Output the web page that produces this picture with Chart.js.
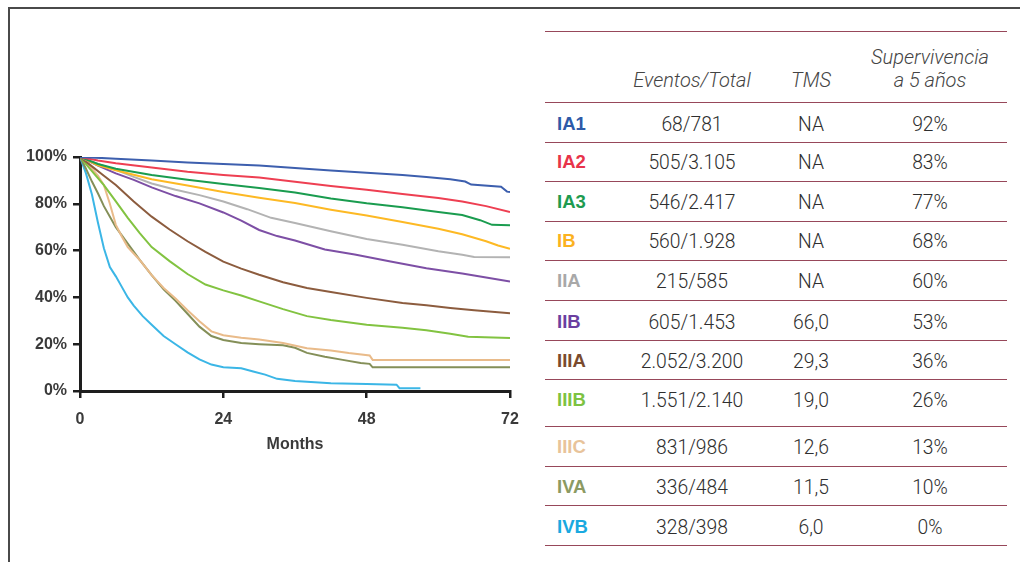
<!DOCTYPE html>
<html>
<head>
<meta charset="utf-8">
<script src="https://cdn.jsdelivr.net/npm/chart.js@4.4.1/dist/chart.umd.min.js"></script>
<style>
  html, body { margin: 0; padding: 0; background: #fff; }
  body { width: 1020px; height: 562px; position: relative; overflow: hidden; font-family: "Liberation Sans", Arial, sans-serif; }
  #frameTop { position: absolute; left: 8px; top: 7px; width: 1012px; height: 0; border-top: 2px solid #4a4a4a; }
  #frameLeft { position: absolute; left: 8px; top: 7px; width: 0; height: 555px; border-left: 2px solid #4a4a4a; }
  #chartBox { position: absolute; left: 0; top: 0; width: 540px; height: 480px; }
  .hline { position: absolute; left: 545px; width: 462px; height: 0; border-top: 1.5px solid #97485a; }
  .cell { position: absolute; transform: translate(-50%, -50%); white-space: nowrap; font-family: Roboto, "Liberation Sans", sans-serif; font-weight: 300; font-size: 19.3px; color: #2e2e2e; }
  .lab { position: absolute; transform: translateY(-50%); white-space: nowrap; font-family: "Liberation Sans", Arial, sans-serif; font-size: 18.5px; font-weight: bold; }
  .hdr { position: absolute; transform: translate(-50%, -50%); white-space: nowrap; font-family: Roboto, "Liberation Sans", sans-serif; font-weight: 300; font-size: 20px; font-style: italic; color: #444; }
</style>
</head>
<body>
<div id="frameTop"></div>
<div id="frameLeft"></div>
<div id="chartBox"><canvas id="c"></canvas></div>
<div id="table"></div>
<script>
// ---- Data ----
const stages = ["IA1","IA2","IA3","IB","IIA","IIB","IIIA","IIIB","IIIC","IVA","IVB"];
const eventsTotal = ["68/781","505/3.105","546/2.417","560/1.928","215/585","605/1.453","2.052/3.200","1.551/2.140","831/986","336/484","328/398"];
const tms = ["NA","NA","NA","NA","NA","66,0","29,3","19,0","12,6","11,5","6,0"];
const surv5 = ["92%","83%","77%","68%","60%","53%","36%","26%","13%","10%","0%"];
const lineColors = ["#3d5fae","#ee3f52","#1a9c4f","#fdb924","#b3b3b3","#7d4fa5","#8c5c3e","#82c341","#e9bb8a","#848f58","#3bb6e6"];
const labelColors = ["#2d5aa8","#e8334a","#1e9b50","#fbb21f","#a8a8a8","#6b3fa0","#7a4b2e","#7dc242","#e8c39a","#8c9a62","#1aa9e0"];
const xTicks = [0,24,48,72];
const yTicks = [0,20,40,60,80,100];

const mIA1 = [0,6,12,18,24,30,36,42,48,54,58,62,64.5,65.5,70.5,71.5,72];
const vIA1 = [100,99.3,98.5,97.6,97,96.4,95.3,94.2,93.3,92.3,91.5,90.5,89.5,88.2,87.3,85.2,85];
const mIA2 = [0,3,6,12,18,24,30,36,42,48,54,60,64,68,72];
const vIA2 = [100,98.5,97.3,95.5,93.7,92.3,91.2,89.4,87.6,86,84.2,82.5,81,79,76.5];
const mIA3 = [0,3,6,12,18,24,30,36,42,48,54,60,64,67,69,72];
const vIA3 = [100,97,95,92.3,90.3,88.5,86.8,84.8,82.3,80.2,78.5,76.5,75.2,73,71,70.8];
const mIB = [0,3,6,12,18,24,30,36,42,48,54,60,64,68,70,72];
const vIB = [100,96.5,94.3,90.5,87.8,85,82.6,80.3,77.5,75,72.2,69.3,67,64,62.2,60.8];
const mIIA = [0,3,6,9,12,16,20,24,28,32,36,42,48,54,60,64,66,72];
const vIIA = [100,97,94.5,91.5,88.7,86,83.7,81,77.7,74,71.8,68.3,65,62.5,59.7,58.2,57.3,57.2];
const mIIB = [0,3,6,9,12,16,20,24,27,30,33,36,41,46,52,58,64,68,72];
const vIIB = [100,96.3,93,90.2,87,83.3,80.2,76.3,72.8,68.8,66.2,64.3,60.5,58.3,55.3,52.5,50.2,48.5,46.8];
const mIIIA = [0,2,4,6,9,12,15,18,21,24,27,30,34,38,42,48,54,58,62,66,72];
const vIIIA = [100,96,92,88,81,74.5,69,64,59.5,55.3,52.3,49.7,46.5,44,42.3,39.8,37.6,36.6,35.5,34.5,33.2];
const mIIIB = [0,2,4,6,8,10,12,15,18,21,24,27,30,34,38,42,48,54,58,62,65,72];
const vIIIB = [100,94,88,81,74,67.5,61.5,55.5,50,45.5,43,40.8,38.3,35,32,30.3,28.3,27,26,24.5,23.2,22.6];
const mIIIC = [0,2,3,4,5,6,7,8,10,12,14,16,18,20,22,24,27,30,34,38,42,45,48.5,49,72];
const vIIIC = [100,95,92,88,80,71,66,61.5,56,49.5,44,39.5,34.5,29.8,25.5,23.8,22.8,22,20.5,18.3,17.3,16.2,15.2,13.3,13.3];
const mIVA = [0,1,2,3,4,6,8,10,12,14,16,18,20,22,24,27,30,34,36,38,41,44,47,48.5,49,72];
const vIVA = [100,95,89.5,84.5,79,70,63,56,49.5,43.5,38.5,33,27.5,23.5,21.8,20.5,20,19.5,18.5,16.3,14.6,13.3,12,11.6,10.1,10.1];
const mIVB = [0,1,2,3,4,5,6,7,8,9,10.5,12,14,16,18,20,22,24,27,29,31,33,36,42,48,53,53.5,57];
const vIVB = [100,93,84,72,61,53,49,44.5,40,36.5,32,28.3,23.5,20,16.5,13.5,11.3,10.2,9.7,8.3,7,5.2,4.3,3.3,3,2.7,1.2,1.2];

const seriesMonths = [mIA1,mIA2,mIA3,mIB,mIIA,mIIB,mIIIA,mIIIB,mIIIC,mIVA,mIVB];
const seriesValues = [vIA1,vIA2,vIA3,vIB,vIIA,vIIB,vIIIA,vIIIB,vIIIC,vIVA,vIVB];

// ---- Chart ----
const datasets = stages.map((s, i) => ({
  label: s,
  data: seriesMonths[i].map((m, k) => ({ x: m, y: seriesValues[i][k] })),
  borderColor: lineColors[i],
  borderWidth: 2,
  pointRadius: 0,
  tension: 0,
  fill: false
}));

const tickFont = { family: "Liberation Sans, Arial, sans-serif", size: 16, weight: "bold" };

new Chart(document.getElementById("c"), {
  type: "line",
  data: { datasets },
  options: {
    responsive: true,
    maintainAspectRatio: false,
    animation: false,
    events: [],
    layout: { padding: { left: 10, right: 30, top: 157, bottom: 19 } },
    plugins: { legend: { display: false }, tooltip: { enabled: false } },
    scales: {
      x: {
        type: "linear",
        min: 0, max: 72,
        afterBuildTicks: sc => { sc.ticks = xTicks.map(v => ({ value: v })); },
        afterFit: sc => { sc.height = 70; },
        border: { display: true, color: "#1e1e1e", width: 3 },
        grid: { drawOnChartArea: false, drawTicks: true, tickLength: 7, color: "#1e1e1e", lineWidth: 2.5 },
        ticks: { color: "#3a3a3a", font: tickFont, padding: 12, maxRotation: 0 },
        title: { display: true, text: "Months", color: "#3a3a3a", font: { family: "Liberation Sans, Arial, sans-serif", size: 16, weight: "bold" }, padding: { top: 0, bottom: 7 } }
      },
      y: {
        min: 0, max: 100,
        afterBuildTicks: sc => { sc.ticks = yTicks.map(v => ({ value: v })); },
        afterFit: sc => { sc.width = 70; },
        border: { display: true, color: "#1e1e1e", width: 3 },
        grid: { drawOnChartArea: false, drawTicks: true, tickLength: 7, color: "#1e1e1e", lineWidth: 2.5 },
        ticks: { color: "#3a3a3a", font: tickFont, padding: 6, callback: v => v + "%" }
      }
    }
  }
});

// ---- Table (HTML) ----
const tbl = document.getElementById("table");
const lineYs = [31,102,142,181,221,260,300,340,379,426,466,505,545];
const rowCenters = [124,162,202,241,281,322,361,400,447,487,527];
lineYs.forEach(y => {
  const d = document.createElement("div");
  d.className = "hline"; d.style.top = y + "px"; tbl.appendChild(d);
});
function put(cls, text, x, y, color) {
  const d = document.createElement("div");
  d.className = cls; d.textContent = text;
  d.style.left = x + "px"; d.style.top = y + "px";
  if (color) d.style.color = color;
  tbl.appendChild(d);
}
put("hdr", "Eventos/Total", 692, 80);
put("hdr", "TMS", 811, 80);
put("hdr", "Supervivencia", 930, 57);
put("hdr", "a 5 años", 930, 80);
stages.forEach((s, i) => {
  const y = rowCenters[i];
  put("lab", s, 557, y, labelColors[i]);
  put("cell", eventsTotal[i], 692, y);
  put("cell", tms[i], 811, y);
  put("cell", surv5[i], 930, y);
});
</script>
</body>
</html>
